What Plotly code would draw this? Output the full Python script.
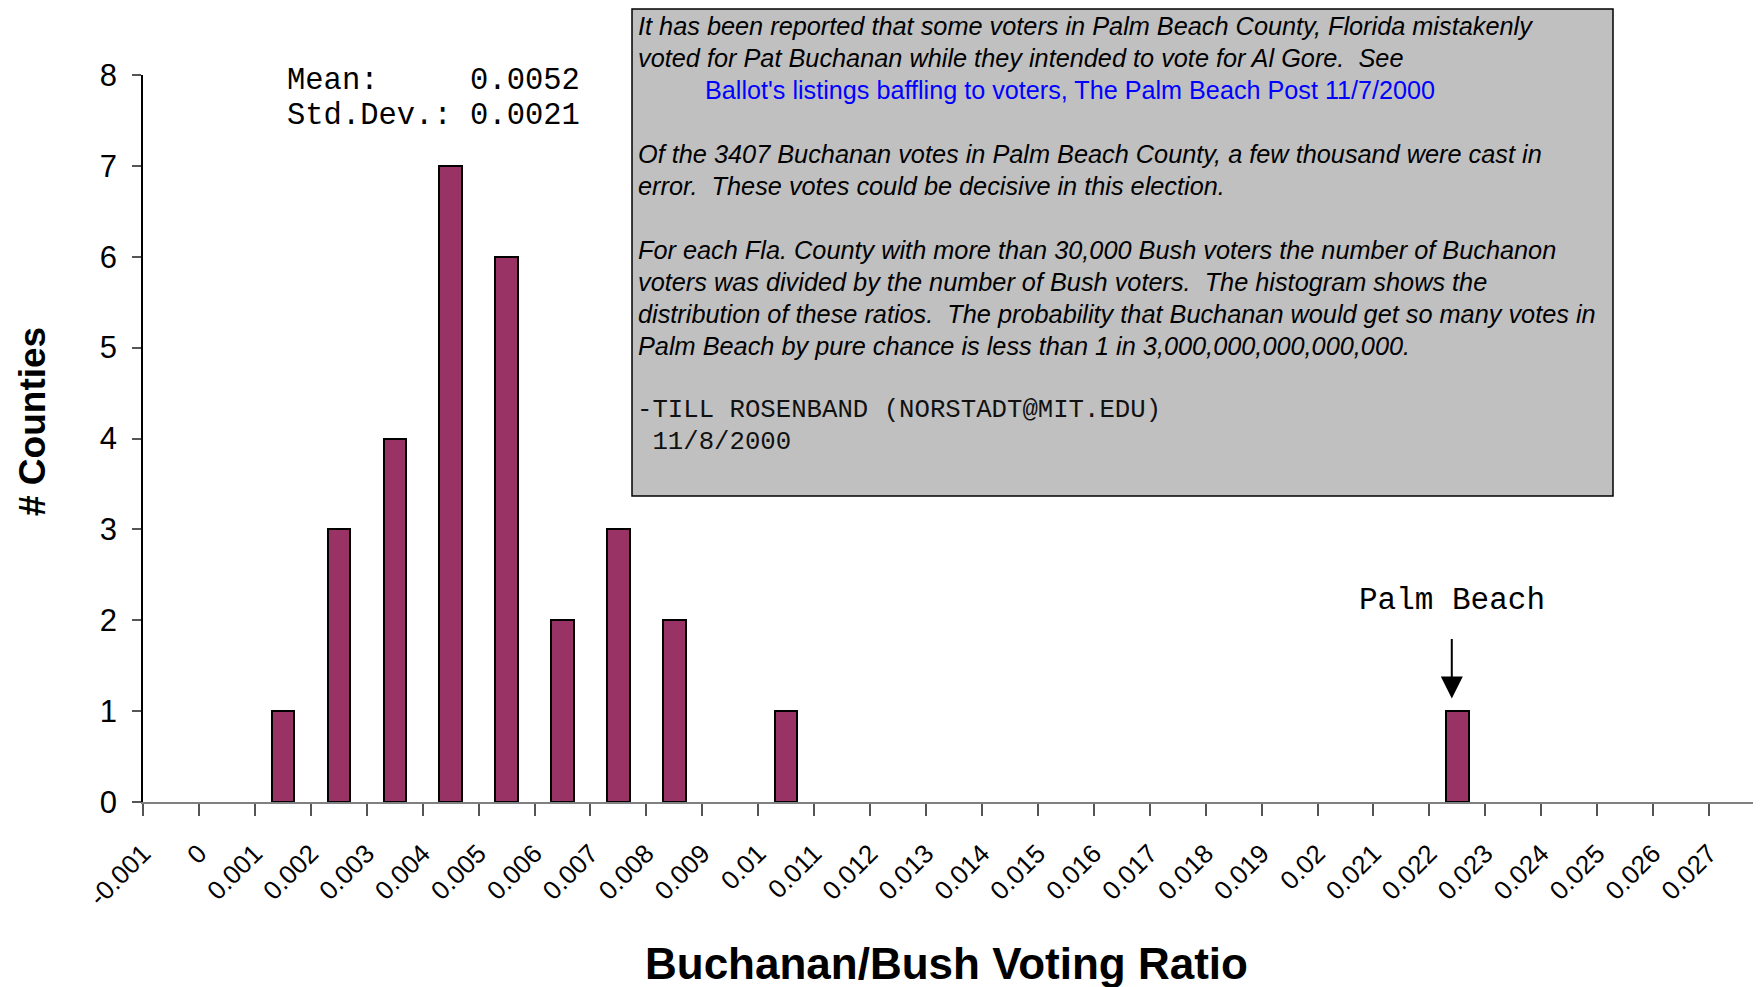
import plotly.graph_objects as go

# ---------------- data ----------------
bin_centers = [0.0015, 0.0025, 0.0035, 0.0045, 0.0055, 0.0065, 0.0075, 0.0085, 0.0105, 0.0225]
counts = [1, 3, 4, 7, 6, 2, 3, 2, 1, 1]
tick_labels = ["-0.001", "0", "0.001", "0.002", "0.003", "0.004", "0.005", "0.006", "0.007",
               "0.008", "0.009", "0.01", "0.011", "0.012", "0.013", "0.014", "0.015", "0.016",
               "0.017", "0.018", "0.019", "0.02", "0.021", "0.022", "0.023", "0.024", "0.025",
               "0.026", "0.027"]
tick_values = [float(t) for t in tick_labels]
mean_ratio = "0.0052"
std_ratio = "0.0021"
palm_beach_x = 0.0224

box_lines = [
    ("It has been reported that some voters in Palm Beach County, Florida mistakenly", "text"),
    ("voted for Pat Buchanan while they intended to vote for Al Gore.  See", "text"),
    ("Ballot's listings baffling to voters, The Palm Beach Post 11/7/2000", "link"),
    ("", "blank"),
    ("Of the 3407 Buchanan votes in Palm Beach County, a few thousand were cast in", "text"),
    ("error.  These votes could be decisive in this election.", "text"),
    ("", "blank"),
    ("For each Fla. County with more than 30,000 Bush voters the number of Buchanon", "text"),
    ("voters was divided by the number of Bush voters.  The histogram shows the", "text"),
    ("distribution of these ratios.  The probability that Buchanan would get so many votes in", "text"),
    ("Palm Beach by pure chance is less than 1 in 3,000,000,000,000,000.", "text"),
    ("", "blank"),
    ("-TILL ROSENBAND (NORSTADT@MIT.EDU)", "mono"),
    (" 11/8/2000", "mono"),
]

# ---------------- layout geometry ----------------
W, H = 1761, 987
L, R, T, B = 135, 4, 67, 193
PW = W - L - R
PH = H - T - B


def px(xp):
    return (xp - L) / PW


def py(yp):
    return (H - B - yp) / PH


def nb(s):
    return s.replace(" ", "&nbsp;")


fig = go.Figure()
fig.add_trace(go.Bar(
    x=bin_centers, y=counts, width=0.0004,
    marker=dict(color="#993366", line=dict(color="black", width=2)),
    hoverinfo="x+y",
))

annotations = []
shapes = []

mono = "Liberation Mono"
sans = "Liberation Sans"

# statistics text
annotations.append(dict(xref="paper", yref="paper", x=px(277), y=py(72.5), xanchor="left", yanchor="middle",
                        text=nb("Mean:     " + mean_ratio), showarrow=False,
                        font=dict(family=mono, size=30.5, color="black")))
annotations.append(dict(xref="paper", yref="paper", x=px(277), y=py(108), xanchor="left", yanchor="middle",
                        text=nb("Std.Dev.: " + std_ratio), showarrow=False,
                        font=dict(family=mono, size=30.5, color="black")))

# text box
shapes.append(dict(type="rect", xref="paper", yref="paper", x0=px(624), x1=px(1605), y0=py(488), y1=py(1),
                   fillcolor="#c0c0c0", line=dict(color="black", width=1.5), layer="above"))
y0 = 18
dy = 32.0
for i, (txt, kind) in enumerate(box_lines):
    if kind == "blank":
        continue
    yy = y0 + i * dy
    if kind == "text":
        annotations.append(dict(xref="paper", yref="paper", x=px(628), y=py(yy), xanchor="left", yanchor="middle",
                                text="<i>" + txt + "</i>", showarrow=False,
                                font=dict(family=sans, size=25.3, color="black")))
    elif kind == "link":
        annotations.append(dict(xref="paper", yref="paper", x=px(695), y=py(yy), xanchor="left", yanchor="middle",
                                text=txt, showarrow=False,
                                font=dict(family=sans, size=25.2, color="#0000ff")))
    else:
        annotations.append(dict(xref="paper", yref="paper", x=px(627), y=py(yy), xanchor="left", yanchor="middle",
                                text=nb(txt), showarrow=False,
                                font=dict(family=mono, size=25.7, color="#111111")))

# Palm Beach label and arrow
annotations.append(dict(xref="x", yref="paper", x=palm_beach_x, y=py(592), xanchor="center", yanchor="middle",
                        text="Palm Beach", showarrow=False,
                        font=dict(family=mono, size=31, color="black")))
annotations.append(dict(xref="x", yref="y", x=palm_beach_x, y=1.14, ax=0, ay=-61, text="",
                        showarrow=True, arrowhead=2, arrowsize=2.2, arrowwidth=2, arrowcolor="black"))

# axis titles as annotations for exact placement
annotations.append(dict(xref="paper", yref="paper", x=px(938), y=py(955), xanchor="center", yanchor="middle",
                        text="<b>Buchanan/Bush Voting Ratio</b>", showarrow=False,
                        font=dict(family=sans, size=44, color="black")))
annotations.append(dict(xref="paper", yref="paper", x=px(24), y=py(414), xanchor="center", yanchor="middle",
                        text="<b># Counties</b>", showarrow=False, textangle=-90,
                        font=dict(family=sans, size=37, color="black")))

fig.update_layout(
    width=W, height=H,
    margin=dict(l=L, r=R, t=T, b=B),
    paper_bgcolor="white", plot_bgcolor="white",
    showlegend=False,
    bargap=0,
    annotations=annotations,
    shapes=shapes,
    xaxis=dict(
        range=[-0.001, 0.028], tickmode="array", tickvals=tick_values, ticktext=tick_labels,
        tickangle=-45, ticks="outside", ticklen=12, tickcolor="#555555", tickwidth=1.5,
        showline=True, linecolor="#808080", linewidth=2, showgrid=False, zeroline=False,
        tickfont=dict(family=sans, size=26, color="black"),
        ticklabelstandoff=12,
    ),
    yaxis=dict(
        range=[0, 8], dtick=1, ticks="outside", ticklen=9, tickcolor="#555555", tickwidth=1.5,
        showline=True, linecolor="black", linewidth=1.5, showgrid=False, zeroline=False,
        tickfont=dict(family=sans, size=31, color="black"),
        ticklabelstandoff=9,
    ),
)

fig.write_html("out.html")
